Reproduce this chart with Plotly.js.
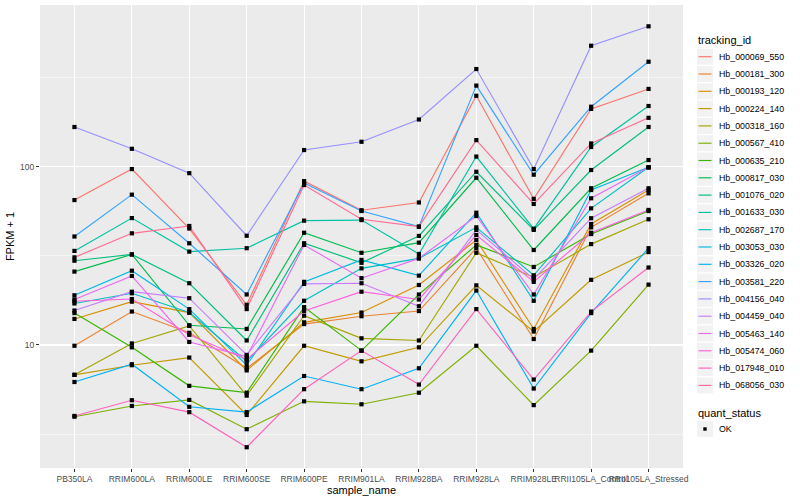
<!DOCTYPE html>
<html>
<head>
<meta charset="utf-8">
<script src="https://cdn.plot.ly/plotly-3.0.1.min.js"></script>
<style>html,body{margin:0;padding:0;background:#fff;}#chart{width:800px;height:500px;}</style>
</head>
<body>
<div id="chart"></div>
<script>
// ---- data (FPKM + 1) ----
const samples = ["PB350LA","RRIM600LA","RRIM600LE","RRIM600SE","RRIM600PE","RRIM901LA","RRIM928BA","RRIM928LA","RRIM928LE","RRII105LA_Control","RRII105LA_Stressed"];
const trackingIds = ["Hb_000069_550","Hb_000181_300","Hb_000193_120","Hb_000224_140","Hb_000318_160","Hb_000567_410","Hb_000635_210","Hb_000817_030","Hb_001076_020","Hb_001633_030","Hb_002687_170","Hb_003053_030","Hb_003326_020","Hb_003581_220","Hb_004156_040","Hb_004459_040","Hb_005463_140","Hb_005474_060","Hb_017948_010","Hb_068056_030"];

const hb000069_550 = [65, 97, 45, 16.8, 83, 57, 63, 250, 66, 211, 273];
const hb000181_300 = [9.9, 15.4, 11.7, 7.4, 13.1, 14.5, 15.5, 34.9, 10.8, 45.7, 70.9];
const hb000193_120 = [14.0, 17.5, 15.2, 7.2, 13.4, 15.2, 21.7, 38.8, 12.3, 47.7, 74.0];
const hb000224_140 = [6.8, 7.7, 8.5, 4.05, 9.9, 8.1, 9.7, 21.6, 11.9, 23.2, 33.2];
const hb000318_160 = [6.8, 10.2, 12.8, 5.2, 14.6, 10.9, 10.6, 32.9, 24.0, 36.8, 50.7];
const hb000567_410 = [3.96, 4.55, 4.92, 3.37, 4.83, 4.65, 5.4, 9.9, 4.6, 9.3, 21.8];
const hb000635_210 = [15.1, 9.7, 5.9, 5.4, 16.3, 9.3, 19.2, 36.4, 27.4, 41.9, 56.4];
const hb000817_030 = [25.8, 32.2, 12.9, 12.3, 42.6, 32.9, 37.5, 86.7, 34.1, 75.7, 109];
const hb001076_020 = [29.7, 32.2, 22.2, 10.6, 37.2, 28.9, 40.9, 93.7, 44.2, 95.8, 167];
const hb001633_030 = [33.7, 51.5, 33.4, 34.9, 49.8, 50.2, 32.4, 114, 44.9, 129, 219];
const hb002687_170 = [17.1, 19.5, 15.2, 8.1, 17.7, 26.9, 30.6, 45.7, 24.6, 58.4, 99.2];
const hb003053_030 = [19.0, 26.1, 15.9, 7.7, 22.6, 30.0, 24.5, 55.2, 17.7, 74.0, 99.2];
const hb003326_020 = [6.2, 7.8, 4.5, 4.2, 6.7, 5.65, 7.4, 20.2, 5.7, 15.1, 34.9];
const hb003581_220 = [40.6, 69.7, 37.2, 19.2, 81.0, 56.4, 46.1, 285, 90.2, 217, 388];
const hb004156_040 = [167, 126, 92, 41, 124, 138, 184, 353, 97, 477, 613];
const hb004459_040 = [15.6, 19.9, 18.3, 8.8, 22.0, 22.2, 16.5, 44.2, 23.4, 51.4, 75.7];
const hb005463_140 = [18.0, 24.4, 10.4, 8.6, 36.4, 23.7, 30.6, 52.9, 19.2, 66.5, 99.2];
const hb005474_060 = [17.6, 18.1, 11.4, 8.3, 15.5, 19.9, 18.0, 41.4, 22.6, 42.6, 57.2];
const hb017948_010 = [4.0, 4.9, 4.2, 2.67, 5.65, 9.3, 6.0, 15.9, 6.4, 15.4, 27.2];
const hb068056_030 = [31.0, 42.3, 46.5, 15.9, 78.9, 50.7, 46.1, 141, 61.8, 135, 188];

const quantStatus = ["OK"];

const seriesValues = [hb000069_550, hb000181_300, hb000193_120, hb000224_140, hb000318_160, hb000567_410, hb000635_210, hb000817_030, hb001076_020, hb001633_030, hb002687_170, hb003053_030, hb003326_020, hb003581_220, hb004156_040, hb004459_040, hb005463_140, hb005474_060, hb017948_010, hb068056_030];

// ---- styles ----
const colors = ["#F8766D","#EA8331","#D89000","#C09B00","#A3A500","#7CAE00","#39B600","#00BB4E","#00BF7D","#00C1A3","#00BFC4","#00BAE0","#00B0F6","#35A2FF","#9590FF","#C77CFF","#E76BF3","#FA62DB","#FF62BC","#FF6C91"];
const FONT = "Liberation Sans, Arial, Helvetica, sans-serif";
const W = 800, H = 500, M = {l: 40, r: 117, t: 5, b: 32};
const PW = W - M.l - M.r, PH = H - M.t - M.b;
const pxX = p => (p - M.l) / PW;          // pixel -> paper x
const pxY = p => (H - M.b - p) / PH;      // pixel -> paper y

const traces = trackingIds.map((id, i) => ({
  type: "scatter", mode: "lines", name: id,
  x: samples, y: seriesValues[i],
  line: {color: colors[i], width: 1.15},
  showlegend: false, hoverinfo: "skip"
}));

const px = [], py = [];
seriesValues.forEach(vals => vals.forEach((v, j) => { px.push(samples[j]); py.push(v); }));
traces.push({
  type: "scatter", mode: "markers", name: quantStatus[0],
  x: px, y: py,
  marker: {color: "#000000", symbol: "square", size: 4.2},
  showlegend: false, hoverinfo: "skip"
});

// ---- ggplot-like legends (keys drawn as shapes, labels as annotations) ----
const shapes = [], annotations = [];
const keyL = 697, keyR = 713, textX = 717, step = 17.3, firstY = 56.7;
annotations.push({xref: "paper", yref: "paper", x: pxX(696), y: pxY(40.5), xanchor: "left", yanchor: "middle",
  text: "tracking_id", showarrow: false, font: {family: FONT, size: 11, color: "#000"}});
trackingIds.forEach((id, i) => {
  const cy = firstY + i * step;
  shapes.push({type: "rect", xref: "paper", yref: "paper", x0: pxX(keyL), x1: pxX(keyR), y0: pxY(cy - 8), y1: pxY(cy + 8),
    fillcolor: "#F2F2F2", line: {width: 0}, layer: "above"});
  shapes.push({type: "line", xref: "paper", yref: "paper", x0: pxX(keyL + 1.5), x1: pxX(keyR - 1.5), y0: pxY(cy), y1: pxY(cy),
    line: {color: colors[i], width: 1.15}, layer: "above"});
  annotations.push({xref: "paper", yref: "paper", x: pxX(textX), y: pxY(cy), xanchor: "left", yanchor: "middle",
    text: id, showarrow: false, font: {family: FONT, size: 8.8, color: "#000"}});
});
annotations.push({xref: "paper", yref: "paper", x: pxX(696), y: pxY(412.5), xanchor: "left", yanchor: "middle",
  text: "quant_status", showarrow: false, font: {family: FONT, size: 11, color: "#000"}});
{
  const cy = 429;
  shapes.push({type: "rect", xref: "paper", yref: "paper", x0: pxX(keyL), x1: pxX(keyR), y0: pxY(cy - 8), y1: pxY(cy + 8),
    fillcolor: "#F2F2F2", line: {width: 0}, layer: "above"});
  shapes.push({type: "rect", xref: "paper", yref: "paper", x0: pxX(703.3), x1: pxX(706.7), y0: pxY(cy + 1.7), y1: pxY(cy - 1.7),
    fillcolor: "#000000", line: {width: 0}, layer: "above"});
  annotations.push({xref: "paper", yref: "paper", x: pxX(textX), y: pxY(cy), xanchor: "left", yanchor: "middle",
    text: quantStatus[0], showarrow: false, font: {family: FONT, size: 8.8, color: "#000"}});
}

const layout = {
  width: W, height: H,
  paper_bgcolor: "#FFFFFF", plot_bgcolor: "#EBEBEB",
  margin: M,
  font: {family: FONT, color: "#000000"},
  showlegend: false,
  shapes: shapes, annotations: annotations,
  xaxis: {
    type: "category", categoryorder: "array", categoryarray: samples,
    range: [-0.6, 10.6], tickangle: 0,
    showgrid: true, gridcolor: "#FFFFFF", gridwidth: 1.1,
    zeroline: false, showline: false,
    ticks: "outside", ticklen: 3, tickcolor: "#333333", tickwidth: 1,
    tickfont: {family: FONT, size: 8.5, color: "#4D4D4D"},
    title: {text: "sample_name", font: {family: FONT, size: 11, color: "#000000"}, standoff: 0}
  },
  yaxis: {
    type: "log", range: [0.31, 2.907],
    tickmode: "array", tickvals: [10, 100], ticktext: ["10", "100"],
    showgrid: true, gridcolor: "#FFFFFF", gridwidth: 1.1,
    minor: {tickmode: "array", tickvals: [3.1623, 31.623, 316.23], showgrid: true, gridcolor: "#FFFFFF", gridwidth: 0.5, ticks: ""},
    zeroline: false, showline: false,
    ticks: "outside", ticklen: 3, tickcolor: "#333333", tickwidth: 1,
    tickfont: {family: FONT, size: 8.5, color: "#4D4D4D"},
    title: {text: "FPKM + 1", font: {family: FONT, size: 11, color: "#000000"}, standoff: 3}
  }
};

Plotly.newPlot("chart", traces, layout, {staticPlot: true, displayModeBar: false});
</script>
</body>
</html>
